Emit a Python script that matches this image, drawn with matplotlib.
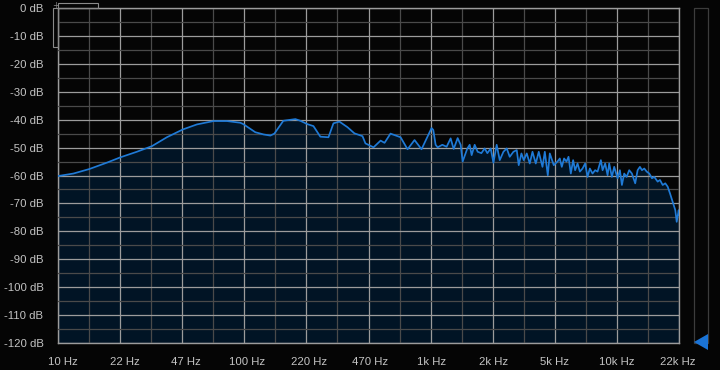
import matplotlib
matplotlib.use("Agg")
import matplotlib.pyplot as plt
from matplotlib.ticker import NullFormatter
from matplotlib.patches import Rectangle, Polygon
from matplotlib.transforms import ScaledTranslation

# spectrum: frequency (Hz) and level (dB)
freq = [10.0, 12.1, 14.7, 18.3, 21.6, 26.5, 31.9, 38.4, 46.8, 55.7,
        68.4, 80.7, 95.2, 98.8, 114.6, 127, 138, 145, 162, 188,
        200, 218, 235, 256, 283, 301, 324, 358, 390, 431,
        447, 494, 539, 566, 609, 690, 752, 820, 894, 1012,
        1034, 1064, 1091, 1156, 1219, 1281, 1330, 1397, 1450, 1486,
        1575, 1621, 1661, 1724, 1789, 1873, 1951, 2017, 2102, 2174,
        2263, 2350, 2460, 2563, 2659, 2783, 2900, 2972, 3073, 3162,
        3282, 3406, 3523, 3669, 3807, 3986, 4102, 4256, 4363, 4584,
        4799, 4937, 5061, 5207, 5364, 5499, 5658, 5822, 5968, 6149,
        6326, 6540, 6754, 6957, 7157, 7401, 7642, 7874, 8204, 8378,
        8652, 8913, 9091, 9399, 9672, 10087, 10378, 10638, 10945, 11276,
        11643, 12038, 12540, 12919, 13294, 13630, 14025, 14448, 14920, 15427,
        15871, 16554, 17032, 17610, 18185, 18733, 19272, 19929, 20581, 20941,
        21465, 21544]
level = [-60.2, -59.3, -57.7, -55.4, -53.5, -51.5, -49.5, -46.3, -43.5, -41.7,
         -40.5, -40.5, -41.1, -41.6, -44.5, -45.3, -45.7, -45.0, -40.4, -39.8,
         -40.4, -41.6, -42.3, -46.1, -46.3, -41.3, -40.7, -42.7, -44.9, -45.9,
         -48.5, -49.9, -47.5, -48.3, -45.0, -46.3, -50.6, -47.3, -50.6, -43.0,
         -43.7, -49.0, -49.9, -49.0, -49.7, -46.7, -50.5, -46.6, -49.0, -55.0,
         -50.3, -49.0, -52.7, -49.0, -51.5, -52.0, -50.3, -52.0, -50.3, -55.4,
         -49.0, -54.5, -51.5, -50.3, -53.3, -51.5, -50.9, -56.3, -52.1, -54.5,
         -52.1, -55.7, -51.5, -55.7, -51.5, -56.9, -51.5, -59.9, -52.1, -56.3,
         -55.0, -53.9, -56.9, -53.9, -55.0, -53.3, -59.3, -54.5, -58.1, -55.7,
         -58.6, -57.5, -55.7, -60.5, -57.5, -59.3, -58.1, -58.6, -54.5, -58.1,
         -55.7, -59.9, -55.7, -60.5, -56.9, -61.0, -58.1, -63.4, -59.3, -60.5,
         -58.1, -59.3, -62.8, -58.1, -56.9, -58.1, -57.5, -58.6, -59.3, -61.0,
         -60.5, -62.2, -61.6, -63.4, -62.8, -64.0, -66.4, -69.4, -72.4, -76.6,
         -72.4, -74.0]

x_ticks = [10 ** (1 + n / 3) for n in range(11)]
x_labels = ["10 Hz", "22 Hz", "47 Hz", "100 Hz", "220 Hz", "470 Hz",
            "1k Hz", "2k Hz", "5k Hz", "10k Hz", "22k Hz"]
y_ticks = list(range(-120, 1, 10))
y_labels = ["%d dB" % v for v in y_ticks]

W, H = 720, 370
bg = "#050505"
txt = "#c4c4c4"
major = "#9c9c9c"
minor = "#4a4a4a"

fig = plt.figure(figsize=(W / 100, H / 100), dpi=100, facecolor=bg)
ax = fig.add_axes([58 / W, 1 - 343 / H, 621 / W, 335 / H])
ax.set_facecolor(bg)

ax.set_xscale("log")
ax.set_xlim(10, 10 ** (13 / 3))
ax.set_ylim(-120, 0)

ax.set_xticks(x_ticks)
ax.set_xticklabels(x_labels)
ax.set_xticks([10 ** (1 + (2 * n + 1) / 6) for n in range(10)], minor=True)
ax.xaxis.set_minor_formatter(NullFormatter())
ax.set_yticks(y_ticks)
ax.set_yticklabels(y_labels)
ax.set_yticks(list(range(-115, 0, 10)), minor=True)

ax.tick_params(which="both", length=0, colors=txt, labelsize=8.2)
ax.tick_params(axis="x", pad=10)
ax.tick_params(axis="y", pad=10.5)
for lab in ax.get_xticklabels() + ax.get_yticklabels():
    lab.set_fontfamily("Liberation Sans")
    lab.set_color(txt)

# the app draws its frequency labels slightly right of the grid lines at the low end
for i, lab in enumerate(ax.get_xticklabels()):
    dx = (5 - 0.6 * i) / 100
    lab.set_transform(lab.get_transform() + ScaledTranslation(dx, 0, fig.dpi_scale_trans))

ax.set_axisbelow(False)
ax.grid(which="major", color=major, lw=0.9)
ax.grid(which="minor", color=minor, lw=0.9)
for s in ax.spines.values():
    s.set_color(major)
    s.set_linewidth(1.0)

ax.fill_between(freq, level, -120, color="#011425", lw=0, zorder=1)
ax.plot(freq, level, color="#1f7ad6", lw=1.25, zorder=3)


def fx(x):
    return x / W


def fy(y):
    return 1 - y / H


# little zoom widgets at the top-left corner
fig.add_artist(Rectangle((fx(58), fy(8)), 40 / W, 5 / H, fill=False,
                         ec="#8a8a8a", lw=0.8, transform=fig.transFigure))
fig.add_artist(Rectangle((fx(53), fy(47)), 5 / W, 39 / H, fill=False,
                         ec="#8a8a8a", lw=0.8, transform=fig.transFigure))
fig.text(fx(55.5), fy(5.5), "+", color="#8a8a8a", fontsize=6,
         ha="center", va="center")

# level slider on the right
fig.add_artist(Rectangle((fx(694), fy(343)), 14 / W, 335 / H, fill=False,
                         ec="#3c3c3c", lw=0.9, transform=fig.transFigure))
fig.add_artist(Polygon([(fx(694), fy(342)), (fx(708), fy(334)), (fx(708), fy(350))],
                       closed=True, fc="#1a73d6", ec="none", transform=fig.transFigure))

fig.savefig("out.png", dpi=100, facecolor=bg)
